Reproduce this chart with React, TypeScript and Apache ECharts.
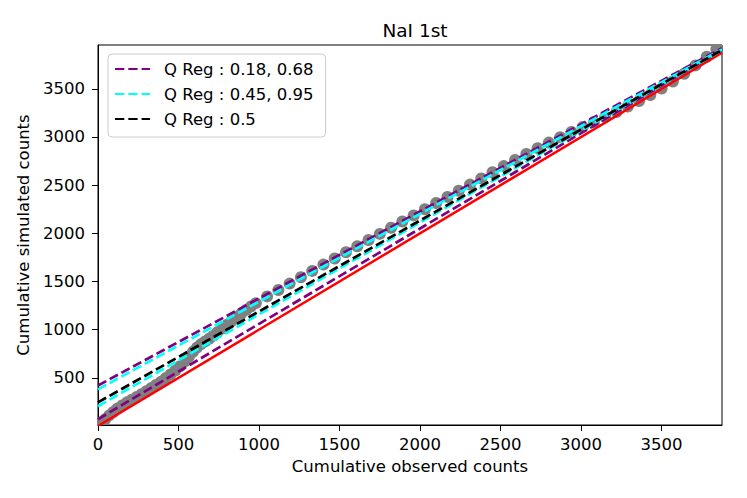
import React, { useEffect, useRef } from "react";
import * as echarts from "echarts";

// ---- data ----
const TITLE = "NaI 1st";
const X_LABEL = "Cumulative observed counts";
const Y_LABEL = "Cumulative simulated counts";

const X_MIN = 0;
const X_MAX = 3875;
const Y_MIN = 10;
const Y_MAX = 3955;

const xTicks = [0, 500, 1000, 1500, 2000, 2500, 3000, 3500];
const yTicks = [500, 1000, 1500, 2000, 2500, 3000, 3500];

// cumulative observed counts (x) of the gray points
const observed = [
  0, 20, 45, 70, 95, 120, 150, 180, 210, 240, 270, 300, 330, 360, 390, 420, 450, 480, 510, 540,
  565, 590, 615, 640, 665, 690, 715, 740, 770, 800, 830, 860, 890, 920, 950, 980,
  1050, 1120, 1190, 1260, 1330, 1400, 1470, 1540, 1610, 1680, 1750, 1820, 1890, 1960,
  2030, 2100, 2170, 2240, 2310, 2380, 2450, 2520, 2590, 2660, 2730, 2800, 2870, 2940,
  3010, 3080, 3150, 3220, 3290, 3360, 3430, 3500, 3570, 3640, 3710, 3780, 3840, 3875,
];
// cumulative simulated counts (y) of the gray points
const simulated = [
  10, 35, 70, 110, 145, 180, 212, 245, 272, 300, 330, 360, 393, 425, 458, 495, 535, 575, 620, 670,
  720, 770, 815, 850, 878, 905, 935, 970, 1010, 1050, 1090, 1130, 1168, 1205, 1240, 1275,
  1345, 1412, 1478, 1544, 1610, 1675, 1739, 1803, 1866, 1930, 1994, 2058, 2122, 2186,
  2250, 2314, 2378, 2442, 2506, 2570, 2634, 2698, 2762, 2824, 2884, 2942, 2998, 3052,
  3105, 3156, 3207, 3260, 3316, 3374, 3436, 3503, 3576, 3656, 3743, 3833, 3910, 3955,
];

// quantile regression lines (intercept, slope)
const qNames = [
  "Q Reg : 0.18, 0.68",
  "Q Reg : 0.18, 0.68",
  "Q Reg : 0.45, 0.95",
  "Q Reg : 0.45, 0.95",
  "Q Reg : 0.5",
];
const qColors = ["#800080", "#800080", "#00ffff", "#00ffff", "#000000"];
const qIntercepts = [70, 420, 205, 380, 245];
const qSlopes = [0.99, 0.904, 0.954, 0.911, 0.944];
const legendNames = ["Q Reg : 0.18, 0.68", "Q Reg : 0.45, 0.95", "Q Reg : 0.5"];

const FONT = "DejaVu Sans";

export default function App() {
  const ref = useRef<HTMLDivElement>(null);

  useEffect(() => {
    if (!ref.current) return;
    const chart = echarts.init(ref.current, undefined, { renderer: "svg" });

    const points = observed.map((x, i) => [x, simulated[i]]);
    const identity = [
      [X_MIN, X_MIN],
      [X_MAX, X_MAX],
    ];

    const qSeries = qNames.map((name, i) => ({
      type: "line",
      name,
      data: [
        [X_MIN, qIntercepts[i] + qSlopes[i] * X_MIN],
        [X_MAX, qIntercepts[i] + qSlopes[i] * X_MAX],
      ],
      symbol: "none",
      showSymbol: false,
      clip: true,
      lineStyle: { color: qColors[i], width: 2.7, type: [9.3, 4] },
      itemStyle: { color: qColors[i] },
      z: 10 + i,
    }));

    const labelStyle = { color: "#000", fontSize: 16.5, fontFamily: FONT };
    const plain = (v: number) => String(v);

    chart.setOption({
      animation: false,
      backgroundColor: "#ffffff",
      grid: {
        left: 98,
        right: 25,
        top: 45,
        bottom: 73,
        show: true,
        borderColor: "#000",
        borderWidth: 1,
        backgroundColor: "transparent",
      },
      xAxis: {
        type: "value",
        min: X_MIN,
        max: X_MAX,
        splitLine: { show: false },
        axisLine: { show: true, onZero: false, lineStyle: { color: "#000", width: 1 } },
        axisTick: { show: true, length: 6, customValues: xTicks, lineStyle: { color: "#000", width: 1 } },
        axisLabel: { customValues: xTicks, margin: 11, formatter: plain, ...labelStyle },
        name: X_LABEL,
        nameLocation: "middle",
        nameGap: 31,
        nameTextStyle: labelStyle,
      },
      yAxis: {
        type: "value",
        min: Y_MIN,
        max: Y_MAX,
        splitLine: { show: false },
        axisLine: { show: true, onZero: false, lineStyle: { color: "#000", width: 1 } },
        axisTick: { show: true, length: 6, customValues: yTicks, lineStyle: { color: "#000", width: 1 } },
        axisLabel: { customValues: yTicks, margin: 13, formatter: plain, ...labelStyle },
        name: Y_LABEL,
        nameLocation: "middle",
        nameGap: 50,
        nameTextStyle: labelStyle,
      },
      legend: {
        data: legendNames,
        orient: "vertical",
        left: 108,
        top: 54,
        itemWidth: 35,
        itemHeight: 14,
        itemGap: 5,
        padding: [5, 12, 8, 6],
        backgroundColor: "rgba(255,255,255,0.8)",
        borderColor: "#cccccc",
        borderWidth: 1,
        borderRadius: 4,
        selectedMode: false,
        itemStyle: { opacity: 0, borderWidth: 0 },
        textStyle: { ...labelStyle, lineHeight: 20, padding: [0, 0, 0, 9] },
      },
      graphic: [
        {
          type: "text",
          x: 415,
          y: 30,
          z: 100,
          style: {
            text: TITLE,
            fontSize: 18.5,
            fontFamily: FONT,
            fill: "#000",
            align: "center",
            verticalAlign: "middle",
          },
        },
      ],
      series: [
        {
          type: "custom",
          name: "observed vs simulated",
          data: points,
          encode: { x: 0, y: 1 },
          clip: true,
          z: 1,
          renderItem: (_params: any, api: any) => {
            const c = api.coord([api.value(0), api.value(1)]);
            return {
              type: "circle",
              shape: { cx: c[0], cy: c[1], r: 6 },
              style: { fill: "#808080" },
            };
          },
        },
        {
          type: "line",
          name: "identity",
          data: identity,
          symbol: "none",
          showSymbol: false,
          clip: true,
          lineStyle: { color: "#ff0000", width: 2.5 },
          z: 5,
        },
        ...qSeries,
      ],
    });

    return () => chart.dispose();
  }, []);

  return (
    <div
      ref={ref}
      style={{ position: "fixed", left: 0, top: 0, width: 747, height: 498, background: "#fff" }}
    />
  );
}
